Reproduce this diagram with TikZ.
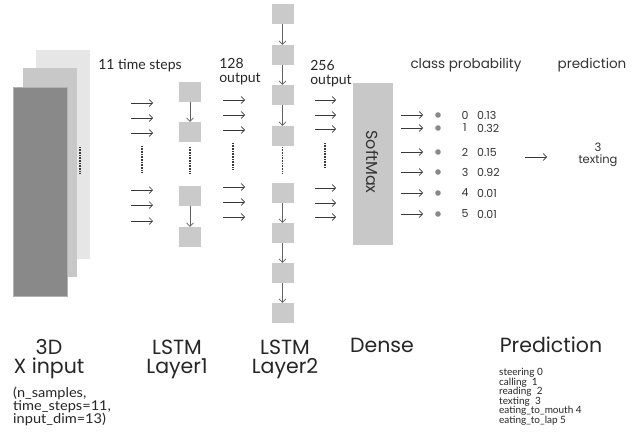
\documentclass[tikz,border=0pt]{standalone}
\usepackage{fontspec}
\setmainfont{Lato}
\newfontfamily\pop{Poppins}
\usetikzlibrary{arrows.meta}
\definecolor{backc}{HTML}{E6E6E6}
\definecolor{midc}{HTML}{C8C8C8}
\definecolor{frontc}{HTML}{898989}
\definecolor{cellc}{HTML}{CACACA}
\definecolor{arrc}{HTML}{3A3A3A}
\definecolor{dotc}{HTML}{888888}
\begin{document}
\begin{tikzpicture}[x=1pt,y=-1pt,
  slab/.style={anchor=north west,inner sep=0pt,minimum width=54pt,minimum height=209pt},
  cell/.style={fill=cellc,inner sep=0pt,minimum width=22pt,minimum height=20pt},
  harr/.style={draw=arrc,line width=0.6pt,-{Straight Barb[length=3.5pt,width=7pt]}},
  varr/.style={draw=arrc!80,line width=0.6pt,-{Straight Barb[length=3.5pt,width=7pt]}},
  dots/.style={draw=arrc,line width=1.1pt,dash pattern=on 0.8pt off 0.8pt},
  small/.style={font=\fontsize{14}{14}\selectfont,inner sep=0pt,text=black!85},
  dim/.style={font=\fontsize{13.5}{12.5}\selectfont,inner sep=0pt,anchor=north west,align=left,xscale=1.08,text=black!85},
  big/.style={font=\pop\fontsize{20.5}{19}\selectfont,inner sep=0pt,align=center,text=black!85},
  light/.style={font=\pop\fontsize{13.5}{14}\selectfont,inner sep=0pt,text=black!80},
  num/.style={font=\pop\fontsize{11}{12}\selectfont,inner sep=0pt,text=black!80}]
\useasboundingbox (0,0) rectangle (639,431);
\fill[white] (0,0) rectangle (639,431);
% 3D input slabs
\node[slab,fill=backc] (back) at (36,50) {};
\node[slab,fill=midc] (mid) at (23,68) {};
\node[slab,fill=frontc,draw=black!30,line width=0.4pt] (front) at (13,87) {};
\coordinate (m1) at (80,147); \coordinate (m2) at (80,173);
\draw[dots] (m1) -- (m2);
% input arrows
\foreach \i/\y in {1/103,2/118,3/133,4/190,5/205,6/221}{
  \coordinate (ia\i) at (131,\y); \coordinate (ib\i) at (153,\y);
  \draw[harr] (ia\i) -- (ib\i);}
\coordinate (id1) at (142,146); \coordinate (id2) at (142,173);
\draw[dots] (id1) -- (id2);
% LSTM1
\foreach \i/\y in {1/92,2/132,3/196,4/237}{\node[cell] (l\i) at (190,\y) {};}
\draw[varr] (l1) -- (l2);
\draw[varr] (l3) -- (l4);
\coordinate (ld1) at (190,147); \coordinate (ld2) at (190,173);
\draw[dots] (ld1) -- (ld2);
% 128 arrows
\foreach \i/\y in {1/100,2/115,3/130,4/187,5/202,6/217}{
  \coordinate (pa\i) at (223,\y); \coordinate (pb\i) at (245,\y);
  \draw[harr] (pa\i) -- (pb\i);}
\coordinate (pd1) at (233,143); \coordinate (pd2) at (233,170);
\draw[dots] (pd1) -- (pd2);
% LSTM2
\foreach \i/\y in {1/14,2/55,3/95,4/136,5/193,6/233,7/273,8/313}{\node[cell] (k\i) at (282.5,\y) {};}
\foreach \a/\b in {1/2,2/3,3/4,5/6,6/7,7/8}{\draw[varr] (k\a) -- (k\b);}
\coordinate (kd1) at (282.5,147); \coordinate (kd2) at (282.5,173);
\draw[dots] (kd1) -- (kd2);
% 256 arrows
\foreach \i/\y in {1/100,2/115,3/129,4/188,5/203,6/217}{
  \coordinate (qa\i) at (315,\y); \coordinate (qb\i) at (336,\y);
  \draw[harr] (qa\i) -- (qb\i);}
\coordinate (qd1) at (325,143); \coordinate (qd2) at (325,168);
\draw[dots] (qd1) -- (qd2);
% SoftMax
\node[fill=midc,anchor=north west,inner sep=0pt,minimum width=40pt,minimum height=162pt] (sm) at (353,83) {};
\node[light,font=\pop\fontsize{16}{17}\selectfont,rotate=-90] (smt) at (373,162) {SoftMax};
% outputs
\foreach \i/\y/\p in {0/115/0.13,1/128/0.32,2/152/0.15,3/172/0.92,4/193/0.01,5/214/0.01}{
  \coordinate (sa\i) at (401,\y); \coordinate (sb\i) at (423,\y);
  \draw[harr] (sa\i) -- (sb\i);
  \fill[dotc] (438,\y) circle (2.8pt);
  \node[num] (d\i) at (465,\y) {\i};
  \node[num,anchor=west] (pr\i) at (477,\y) {\p};}
\coordinate (ra) at (525,157); \coordinate (rb) at (547,157);
\draw[harr] (ra) -- (rb);
\node[num,align=center,font=\pop\fontsize{11.5}{12}\selectfont] (ptx) at (598,155) {3\\texting};
% headers
\node[small] (ts) at (140,66) {11 time steps};
\node[small,align=left] (o128) at (240,72) {128\\output};
\node[small,align=left] (o256) at (331,73.5) {256\\output};
\node[light] (cp) at (466,65) {class probability};
\node[light] (pdh) at (592,65) {prediction};
% bottom labels
\node[big] (xin) at (49,359.5) {3D\\X input};
\node[dim] (shape) at (13,387) {(n\_samples,\\time\_steps=11,\\input\_dim=13)};
\node[big] (la) at (177,359.5) {LSTM\\Layer1};
\node[big] (lb) at (285,359.5) {LSTM\\Layer2};
\node[big] (den) at (382,345) {Dense};
\node[big] (pred) at (551,345) {Prediction};
\node[anchor=north west,inner sep=0pt,align=left,font=\fontsize{10}{9.6}\selectfont,text=black!85] (plist) at (499,368) {steering 0\\calling\ \ 1\\reading\ \ 2\\texting\ \ 3\\eating\_to\_mouth 4\\eating\_to\_lap 5};
\end{tikzpicture}
\end{document}
